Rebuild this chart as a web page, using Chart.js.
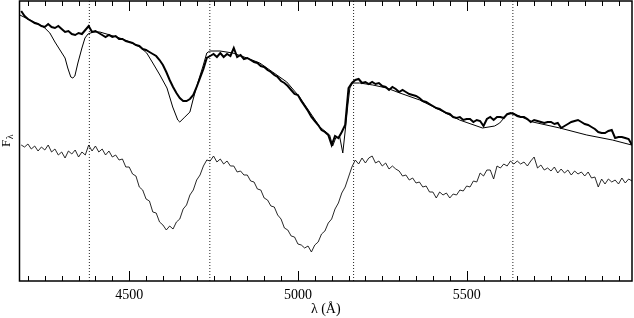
<!DOCTYPE html>
<html>
<head>
<meta charset="utf-8">
<script src="https://cdn.jsdelivr.net/npm/chart.js@4.4.0/dist/chart.umd.min.js"></script>
<style>
  html, body { margin: 0; padding: 0; background: #fff; }
  #wrap { width: 634px; height: 318px; }
</style>
</head>
<body>
<div id="wrap"><canvas id="spectrum" width="634" height="318"></canvas></div>
<script>
// Wavelength sampling of the observed spectra (Angstrom)
const gridStart = 4180;
const gridStep = 10;

// Observed spectrum, upper trace (arbitrary flux units)
const observedTop = [
    270, 265, 262, 260, 258, 257, 255, 254, 257, 254,
    253, 255, 252, 249, 250, 247, 246, 248, 247, 251,
    255, 249, 250, 248, 246, 244, 246, 244, 245, 242,
    242, 240, 239, 238, 236, 235, 232, 231, 229, 227,
    225, 221, 216, 209, 201, 194, 188, 183, 180, 180,
    182, 186, 194, 203, 212, 223, 225, 227, 224, 228,
    224, 227, 225, 233, 224, 226, 222, 223, 221, 219,
    218, 215, 214, 211, 209, 206, 204, 200, 198, 195,
    191, 187, 186, 180, 175, 170, 164, 160, 156, 151,
    149, 146, 136, 145, 143, 149, 156, 193, 198, 201,
    202, 198, 199, 197, 199, 197, 198, 195, 194, 191,
    194, 192, 189, 191, 189, 187, 186, 185, 183, 180,
    179, 177, 175, 173, 172, 170, 168, 167, 164, 163,
    164, 161, 162, 162, 159, 161, 160, 155, 162, 164,
    161, 164, 164, 163, 167, 168, 167, 165, 164, 164,
    162, 159, 161, 160, 159, 158, 159, 159, 157, 158,
    153, 155, 157, 159, 160, 161, 159, 157, 156, 154,
    152, 149, 148, 148, 150, 151, 143, 144, 144, 143,
    142, 136
];

// Observed spectrum, lower trace (arbitrary flux units)
const observedBottom = [
    136, 134, 137, 132, 135, 130, 134, 131, 136, 129,
    132, 126, 129, 123, 130, 127, 131, 124, 129, 126,
    136, 130, 135, 129, 132, 126, 130, 124, 126, 121,
    122, 114, 114, 107, 105, 94, 91, 82, 80, 69,
    68, 59, 56, 51, 55, 52, 59, 62, 72, 76,
    86, 91, 101, 106, 115, 121, 120, 125, 119, 122,
    117, 120, 115, 115, 109, 110, 106, 106, 100, 99,
    92, 91, 83, 81, 75, 74, 66, 62, 53, 51,
    45, 44, 37, 36, 33, 35, 29, 36, 39, 47,
    50, 58, 62, 72, 78, 88, 94, 104, 114, 121,
    117, 123, 118, 123, 125, 118, 120, 115, 118, 112,
    115, 112, 110, 105, 106, 101, 103, 98, 99, 94,
    95, 89, 89, 83, 89, 86, 88, 83, 87, 86,
    91, 90, 95, 94, 100, 99, 108, 105, 111, 111,
    102, 115, 113, 117, 115, 120, 117, 120, 117, 119,
    115, 120, 124, 113, 116, 111, 113, 110, 114, 108,
    112, 108, 111, 106, 110, 107, 109, 105, 109, 103,
    104, 94, 102, 97, 102, 99, 101, 97, 103, 98,
    102, 100
];

// Model spectrum (thin smooth line)
const modelWave = [
    4176, 4206, 4236, 4250, 4265, 4280, 4295, 4310, 4318, 4327,
    4333, 4339, 4348, 4360, 4369, 4378, 4393, 4413, 4443, 4472,
    4502, 4532, 4552, 4570, 4591, 4612, 4629, 4644, 4650, 4665,
    4680, 4689, 4703, 4718, 4730, 4739, 4769, 4807, 4849, 4887,
    4925, 4967, 5005, 5035, 5065, 5094, 5103, 5112, 5124, 5133,
    5142, 5148, 5154, 5162, 5183, 5222, 5263, 5302, 5361, 5420,
    5479, 5547, 5583, 5598, 5618, 5636, 5696, 5776, 5856, 5932,
    5989
];
const modelFlux = [
    266, 261, 256, 253, 248, 239, 231, 223, 213, 204,
    203, 205, 218, 233, 243, 247, 249, 249, 246, 243,
    239, 234, 228, 218, 206, 193, 174, 161, 159, 164,
    169, 181, 198, 214, 228, 230, 230, 228, 223, 218,
    209, 199, 184, 169, 154, 146, 135, 143, 144, 128,
    156, 176, 193, 198, 198, 196, 193, 188, 181, 171,
    161, 153, 155, 158, 166, 168, 159, 153, 146, 141,
    136
];

// Dotted reference wavelengths
const markerWaves = [4382, 4739, 5165, 5637];

// Axis range and ticks
const xMin = 4175, xMax = 5990;
const yMin = 0, yMax = 280;
const xTickValues = [4500, 5000, 5500];
const majorStep = 500, minorStep = 50;

const serif = "'Liberation Serif', 'DejaVu Serif', serif";

function gridPoints(values) {
    return values.map((v, i) => ({ x: gridStart + i * gridStep, y: v }));
}

const markerSets = markerWaves.map(w => ({
    data: [{ x: w, y: yMin }, { x: w, y: yMax }],
    borderColor: '#222',
    borderWidth: 1,
    borderDash: [1, 2],
    pointRadius: 0
}));

// Frame with inward ticks on top and bottom, plus the F_lambda label
const frameTicks = {
    id: 'frameTicks',
    afterDraw(chart) {
        const { ctx, chartArea: a } = chart;
        const xs = chart.scales.x;
        ctx.save();
        ctx.strokeStyle = '#000';
        ctx.lineWidth = 1.5;
        ctx.strokeRect(a.left, a.top, a.right - a.left, a.bottom - a.top);

        ctx.lineWidth = 1;
        ctx.beginPath();
        for (let w = Math.ceil(xMin / minorStep) * minorStep; w <= xMax; w += minorStep) {
            const px = Math.round(xs.getPixelForValue(w)) + 0.5;
            const len = w % majorStep === 0 ? 10 : 5;
            ctx.moveTo(px, a.bottom);
            ctx.lineTo(px, a.bottom - len);
            ctx.moveTo(px, a.top);
            ctx.lineTo(px, a.top + len);
        }
        ctx.stroke();

        // y axis label F with subscript lambda
        ctx.fillStyle = '#000';
        ctx.translate(10, 147);
        ctx.rotate(-Math.PI / 2);
        ctx.textBaseline = 'alphabetic';
        ctx.font = '13px ' + serif;
        ctx.fillText('F', 0, 0);
        const fw = ctx.measureText('F').width;
        ctx.font = '10px ' + serif;
        ctx.fillText('\u03bb', fw + 0.5, 3);
        ctx.restore();
    }
};

new Chart(document.getElementById('spectrum'), {
    type: 'line',
    data: {
        datasets: [
            {
                label: 'observed',
                data: gridPoints(observedTop),
                borderColor: '#000',
                borderWidth: 2,
                pointRadius: 0
            },
            {
                label: 'model',
                data: modelWave.map((w, i) => ({ x: w, y: modelFlux[i] })),
                borderColor: '#000',
                borderWidth: 1,
                pointRadius: 0
            },
            {
                label: 'observed 2',
                data: gridPoints(observedBottom),
                borderColor: '#111',
                borderWidth: 0.9,
                pointRadius: 0
            },
            ...markerSets
        ]
    },
    options: {
        responsive: false,
        animation: false,
        devicePixelRatio: 1,
        layout: { padding: { left: 19.5, right: 2, top: 1, bottom: 0 } },
        plugins: { legend: { display: false }, tooltip: { enabled: false } },
        elements: { line: { tension: 0 } },
        scales: {
            x: {
                type: 'linear',
                min: xMin,
                max: xMax,
                grid: { display: false },
                border: { display: false },
                afterBuildTicks: scale => {
                    scale.ticks = xTickValues.map(v => ({ value: v }));
                },
                ticks: {
                    autoSkip: false,
                    padding: -2,
                    color: '#000',
                    font: { family: serif, size: 14 },
                    callback: v => String(v)
                },
                title: {
                    display: true,
                    text: 'λ (Å)',
                    color: '#000',
                    font: { family: serif, size: 14 },
                    padding: { top: 0, bottom: 0 }
                },
                afterFit: scale => { scale.height = 37; }
            },
            y: {
                display: false,
                min: yMin,
                max: yMax
            }
        }
    },
    plugins: [frameTicks]
});
</script>
</body>
</html>
